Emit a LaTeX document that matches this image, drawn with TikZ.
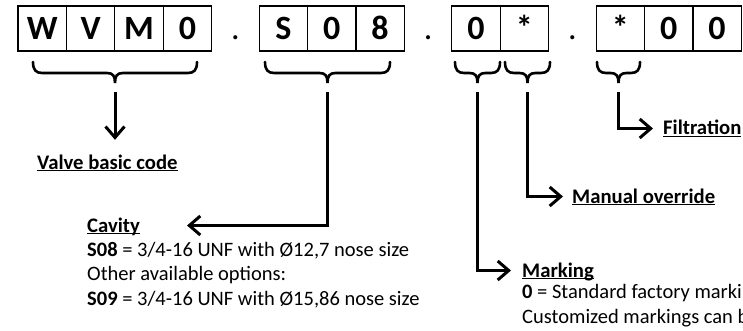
\documentclass[tikz,border=0pt]{standalone}
\usepackage{fontspec}
\setmainfont{Carlito}
\usetikzlibrary{arrows.meta, positioning}

% curly brace under a group of boxes: left x, right x, top y, name of the point below its tip
\newcommand{\codebrace}[4]{%
    \pgfmathsetmacro{\bmid}{(#1+#2)/2}
    \draw[brace] (#1,#3) .. controls (#1,#3-8) and (#1+3,#3-11) .. (#1+9,#3-11)
        -- (\bmid-8,#3-11) .. controls (\bmid-2,#3-11) and (\bmid,#3-14) .. (\bmid,#3-21)
        .. controls (\bmid,#3-14) and (\bmid+2,#3-11) .. (\bmid+8,#3-11)
        -- (#2-9,#3-11) .. controls (#2-3,#3-11) and (#2,#3-8) .. (#2,#3);
    \coordinate (#4) at (\bmid,#3-30);
}
\newcommand{\ulabel}[1]{\underline{\smash{#1}}}

\begin{document}
\begin{tikzpicture}[
        x=1pt, y=1pt,
        node distance=0pt,
        cell/.style={rectangle, draw, line width=1.2pt, minimum height=45pt, minimum width=48.4pt, inner sep=0pt, outer sep=0pt, text height=22pt, text depth=0pt, font=\fontsize{34}{34}\selectfont\bfseries},
        dotgap/.style={rectangle, minimum height=45pt, minimum width=47.5pt, inner sep=0pt, outer sep=0pt, text height=22pt, text depth=0pt, font=\fontsize{34}{34}\selectfont},
        brace/.style={line width=2.6pt, line cap=round},
        arrow/.style={-{Straight Barb[length=11pt, width=19pt]}, line width=3pt},
        title/.style={anchor=west, inner sep=0pt, text height=13pt, text depth=0pt, font=\fontsize{20.7}{25}\selectfont\bfseries},
        info/.style={anchor=north west, inner sep=0pt, align=left, font=\fontsize{20.5}{24.5}\selectfont}
    ]
        \useasboundingbox (0,0) rectangle (743,-331);
        \clip (0,0) rectangle (743,-331);

        % Code boxes
        \node[cell] (w) at (42.2,-28.5) {W};
        \node[cell, right=of w] (v) {V};
        \node[cell, right=of v] (m) {M};
        \node[cell, right=of m] (zero) {0};
        \node[dotgap, right=of zero] (dot1) {.};
        \node[cell, right=of dot1] (s) {S};
        \node[cell, right=of s] (szero) {0};
        \node[cell, right=of szero] (eight) {8};
        \node[dotgap, right=of eight] (dot2) {.};
        \node[cell, right=of dot2] (mark) {0};
        \node[cell, right=of mark] (over) {*};
        \node[dotgap, right=of over] (dot3) {.};
        \node[cell, right=of dot3] (filt) {*};
        \node[cell, right=of filt] (fzero) {0};
        \node[cell, right=of fzero] (fzerob) {0};

        % Braces
        \codebrace{33}{197}{-62}{tcode}
        \codebrace{265}{390}{-62}{tcav}
        \codebrace{455}{500}{-62}{tmark}
        \codebrace{505}{550}{-62}{tman}
        \codebrace{597}{640}{-62}{tfilt}

        % Labels
        \node[title] (basic) at (37,-162.5) {\ulabel{Valve basic code}};
        \node[title] (cavity) at (87,-225.5) {\ulabel{Cavity}};
        \node[info] (cavitytxt) at (87,-242) {\textbf{S08} = 3/4-16 UNF with Ø12,7 nose size\\Other available options:\\\textbf{S09} = 3/4-16 UNF with Ø15,86 nose size};
        \node[title] (marking) at (522,-270.5) {\ulabel{Marking}};
        \node[info] (markingtxt) at (522,-284.5) {\textbf{0} = Standard factory marking\\Customized markings can be};
        \node[title] (manual) at (572,-196.5) {\ulabel{Manual override}};
        \node[title] (filtration) at (663,-128.5) {\ulabel{Filtration}};

        % Arrows
        \draw[arrow] (tcode) -- ([yshift=16pt]tcode |- basic.north);
        \draw[arrow] (tcav) |- ([xshift=100pt]cavity.west);
        \draw[arrow] (tmark) |- ([xshift=-11pt]marking.west);
        \draw[arrow] (tman) |- ([xshift=-9pt]manual.west);
        \draw[arrow] (tfilt) |- ([xshift=-10pt]filtration.west);
    \end{tikzpicture}
\end{document}
